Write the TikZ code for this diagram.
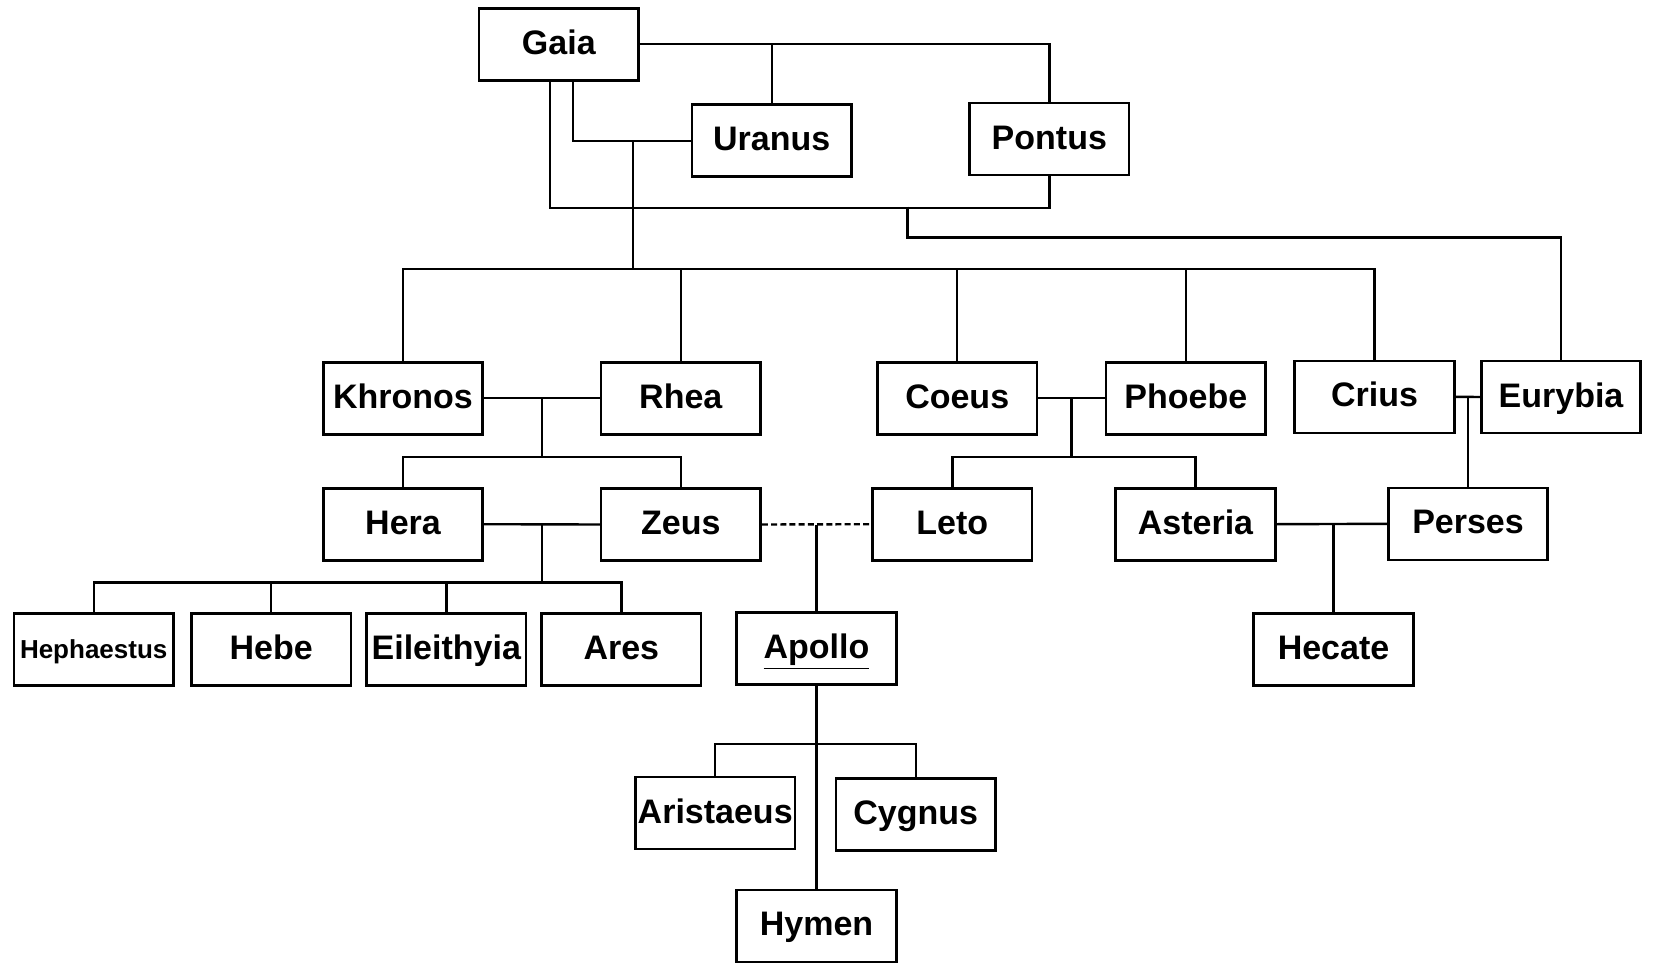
\documentclass[tikz,border=0pt]{standalone}
\usepackage{fontspec}
\setmainfont{Liberation Sans}
\usetikzlibrary{calc}
\tikzset{
  box/.style={draw, line width=1.3pt, minimum width=79.75pt, minimum height=36pt, inner sep=0pt,
    text height=14pt, text depth=4pt,
    font=\bfseries\fontsize{17}{20}\selectfont},
  small/.style={font=\bfseries\fontsize{13}{15}\selectfont, text height=12pt, text depth=3pt},
  link/.style={line width=1.2pt},
  dlink/.style={line width=1.2pt, dash pattern=on 3pt off 1.6pt}
}
\begin{document}
\begin{tikzpicture}[x=0.5pt,y=-0.5pt]
\useasboundingbox (0,0) rectangle (1658,973);
% nodes
\node[box] (Gaia) at (558.8,44.3) {Gaia};
\node[box] (Uranus) at (771.7,140.8) {Uranus};
\node[box] (Pontus) at (1049.3,139.2) {Pontus};
\node[box] (Khronos) at (403,398.2) {Khronos};
\node[box] (Rhea) at (680.8,398.2) {Rhea};
\node[box] (Coeus) at (957.2,398.2) {Coeus};
\node[box] (Phoebe) at (1185.8,398.2) {Phoebe};
\node[box] (Crius) at (1374.5,396.8) {Crius};
\node[box] (Eurybia) at (1561,397) {Eurybia};
\node[box] (Hera) at (403,524.2) {Hera};
\node[box] (Zeus) at (680.8,524.5) {Zeus};
\node[box] (Leto) at (952.3,524.2) {Leto};
\node[box] (Asteria) at (1195.5,524.2) {Asteria};
\node[box] (Perses) at (1468,523.8) {Perses};
\node[box,small] (Hephaestus) at (93.7,649.5) {Hephaestus};
\node[box] (Hebe) at (271.2,649.5) {Hebe};
\node[box] (Eileithyia) at (446.3,649.5) {Eileithyia};
\node[box] (Ares) at (621.3,649.5) {Ares};
\node[box] (Apollo) at (816.5,648.5) {\underline{Apollo}};
\node[box] (Hecate) at (1333.5,649.5) {Hecate};
\node[box] (Aristaeus) at (715.2,813) {Aristaeus};
\node[box] (Cygnus) at (915.7,814.7) {Cygnus};
\node[box] (Hymen) at (816.5,925.8) {Hymen};
% junction coordinates
\coordinate (titans) at (632.7,269);
\coordinate (gp) at (907.3,206.7);
\coordinate (kr) at ($(Khronos.east)!0.5!(Rhea.west)$);
\coordinate (krd) at ($(kr)+(0,59)$);
\coordinate (hz) at ($(Hera.east)!0.5!(Zeus.west)$);
\coordinate (hzd) at ($(hz)+(0,58)$);
\coordinate (cp) at ($(Coeus.east)!0.5!(Phoebe.west)$);
\coordinate (cpd) at ($(cp)+(0,58.5)$);
\coordinate (apd) at ($(Apollo.south)+(0,58)$);
% Gaia, Uranus, Pontus
\draw[link] (Gaia.east) -| (Pontus.north);
\draw[link] (Uranus.north) -- (Uranus.north |- Gaia.east);
\draw[link] ($(Gaia.south)+(-9,0)$) |- ($(Pontus.south)+(0,31.7)$) -- (Pontus.south);
\draw[link] ($(Gaia.south)+(14.2,0)$) |- (Uranus.west);
\draw[link] (titans |- Uranus.west) -- (titans);
\draw[link] (gp) -- ++(0,31) -| (Eurybia.north);
% Titans
\draw[link] (Khronos.north) |- (titans) -| (Crius.north);
\draw[link] (Rhea.north) -- (Rhea.north |- titans);
\draw[link] (Coeus.north) -- (Coeus.north |- titans);
\draw[link] (Phoebe.north) -- (Phoebe.north |- titans);
% Khronos & Rhea
\draw[link] (Khronos.east) -- (Rhea.west);
\draw[link] (kr) -- (krd);
\draw[link] (Hera.north) |- (krd) -| (Zeus.north);
% Hera & Zeus
\draw[link] (Hera.east) -- (Zeus.west);
\draw[link] (hz) -- (hzd);
\draw[link] (Hephaestus.north) |- (hzd) -| (Ares.north);
\draw[link] (Hebe.north) -- (Hebe.north |- hzd);
\draw[link] (Eileithyia.north) -- (Eileithyia.north |- hzd);
% Zeus & Leto
\draw[dlink] (Zeus.east) -- (Leto.west);
\draw[link] (Apollo.north) -- (Apollo.north |- Zeus.east);
% Coeus & Phoebe
\draw[link] (Coeus.east) -- (Phoebe.west);
\draw[link] (cp) -- (cpd);
\draw[link] (Leto.north) |- (cpd) -| (Asteria.north);
% Crius & Eurybia
\draw[link] (Crius.east) -- (Eurybia.west);
\draw[link] (Perses.north) -- (Perses.north |- Crius.east);
% Asteria & Perses
\draw[link] (Asteria.east) -- (Perses.west);
\draw[link] (Hecate.north) -- (Hecate.north |- Asteria.east);
% Apollo's children
\draw[link] (Apollo.south) -- (Hymen.north);
\draw[link] (Aristaeus.north) |- (apd) -| (Cygnus.north);
\end{tikzpicture}
\end{document}
